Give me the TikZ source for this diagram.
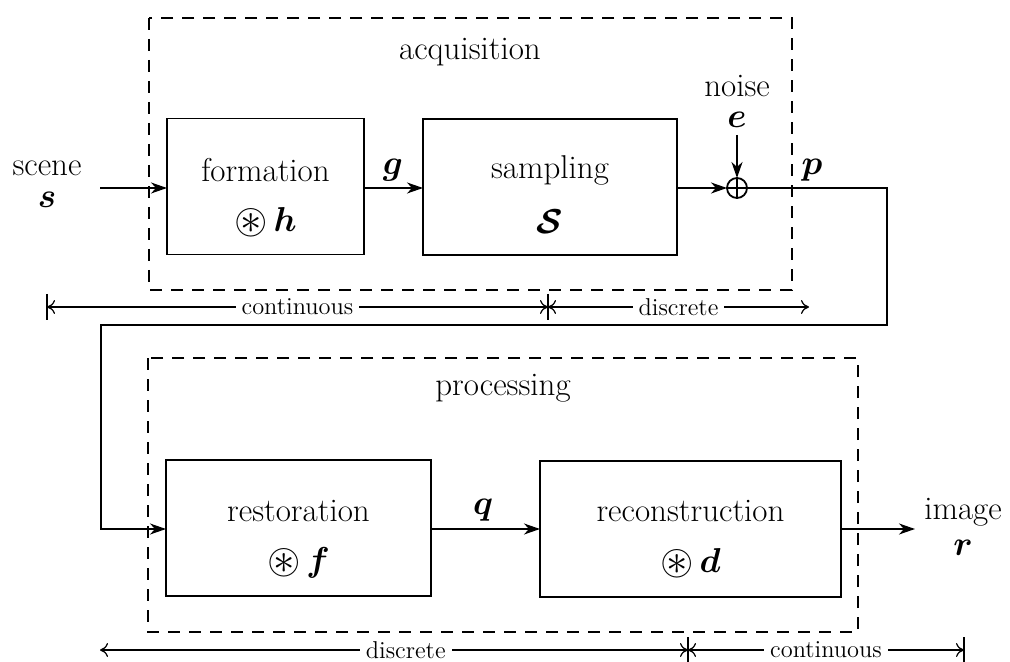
\documentclass[tikz,border=0pt]{standalone}
\usepackage{amssymb}
\usepackage{bm}
\usetikzlibrary{arrows.meta}
\newcommand{\cast}{\mathbin{\raisebox{-0.15ex}{\scalebox{1.3}{$\circledast$}}}}
\begin{document}
\begin{tikzpicture}[x=0.5pt,y=-0.5pt,
  every node/.style={inner sep=0pt,outer sep=0pt},
  blk/.style={draw,line width=0.9pt,minimum height=68pt},
  lbl/.style={font=\fontsize{16.5}{19}\selectfont},
  small/.style={font=\fontsize{12.2}{14}\selectfont,fill=white,inner xsep=3pt},
  grp/.style={draw,line width=0.6pt,dash pattern=on 6pt off 4.5pt},
  conn/.style={line width=0.9pt,-{Stealth[length=8pt,width=5.5pt,inset=2.5pt]}},
  barl/.style={line width=0.6pt},
  tickmark/.style={line width=0.6pt},
  bartip/.style={line width=0.6pt,{To[length=4pt,width=7pt]}-{To[length=4pt,width=7pt]}}
]
\useasboundingbox (0,0) rectangle (1010,662);

% group frames
\draw[grp] (149,18) rectangle (792,290);
\draw[grp] (148,358) rectangle (858,632);
\node[lbl] (acq) at (470,52) {acquisition};
\node[lbl] (proc) at (503,388) {processing};

% blocks
\node[blk,minimum width=98.5pt] (formation) at (265.5,186.5) {};
\node[blk,minimum width=127pt] (sampling) at (550,187) {};
\node[blk,minimum width=132.5pt] (restoration) at (298.5,528) {};
\node[blk,minimum width=150.5pt] (reconstruction) at (690.5,529) {};

\node[lbl] (t1) at (265.5,170) {formation};
\node[lbl] (t1b) at (265.5,222) {$\cast\,\bm{h}$};
\node[lbl] (t2) at (550,170) {sampling};
\node[lbl] (t2b) at (550,222) {$\bm{\mathcal{S}}$};
\node[lbl] (t3) at (298.5,511) {restoration};
\node[lbl] (t3b) at (298.5,563) {$\cast\,\bm{f}$};
\node[lbl] (t4) at (690.5,511) {reconstruction};
\node[lbl] (t4b) at (690.5,563) {$\cast\,\bm{d}$};

% adder
\node[draw,circle,line width=0.9pt,minimum size=10pt] (sum) at (737,188) {};
\draw[line width=0.7pt] (sum.north) -- (sum.south) (sum.west) -- (sum.east);

% labels
\node[lbl] (scene) at (47,168) {scene};
\node[lbl] (s) at (47,200) {$\bm{s}$};
\node[lbl] (g) at (393,170) {$\bm{g}$};
\node[lbl] (noise) at (737,86) {noise};
\node[lbl] (e) at (737,120) {$\bm{e}$};
\node[lbl] (p) at (812,170) {$\bm{p}$};
\node[lbl] (q) at (483,510) {$\bm{q}$};
\node[lbl] (image) at (963,512) {image};
\node[lbl] (r) at (963,548) {$\bm{r}$};

% connectors
\coordinate (scin) at (100,188);
\coordinate (nin) at (737,135);
\coordinate (c1) at (887,188);
\coordinate (c2) at (887,325);
\coordinate (c3) at (101,325);
\coordinate (c4) at (101,529);
\coordinate (out) at (915,529);
\draw[conn] (scin) -- (formation.west |- scin);
\draw[conn] (formation.east |- scin) -- (sampling.west |- scin);
\draw[conn] (sampling.east |- sum) -- (sum.west);
\draw[conn] (nin) -- (sum.north);
\draw[conn] (sum.east) -- (c1) -- (c2) -- (c3) -- (c4) -- (restoration.west |- c4);
\draw[conn] (restoration.east |- c4) -- (reconstruction.west |- c4);
\draw[conn] (reconstruction.east |- c4) -- (out);

% dimension bars (top)
\coordinate (a1) at (47,307);
\coordinate (a2) at (548,307);
\coordinate (a3) at (809,307);
\draw[tickmark] (47,294) -- (47,320);
\draw[tickmark] (548,294) -- (548,320);
\draw[bartip] (a1) -- node[small] (lc) {continuous} (a2);
\draw[bartip] (a2) -- node[small] (ld) {discrete} (a3);

% dimension bars (bottom)
\coordinate (b1) at (100,650);
\coordinate (b2) at (688,650);
\coordinate (b3) at (964,650);
\draw[tickmark] (688,637) -- (688,662);
\draw[tickmark] (964,637) -- (964,662);
\draw[bartip] (b1) -- node[small,pos=0.52] (ld2) {discrete} (b2);
\draw[bartip] (b2) -- node[small,pos=0.5] (lc2) {continuous} (b3);
\end{tikzpicture}
\end{document}
